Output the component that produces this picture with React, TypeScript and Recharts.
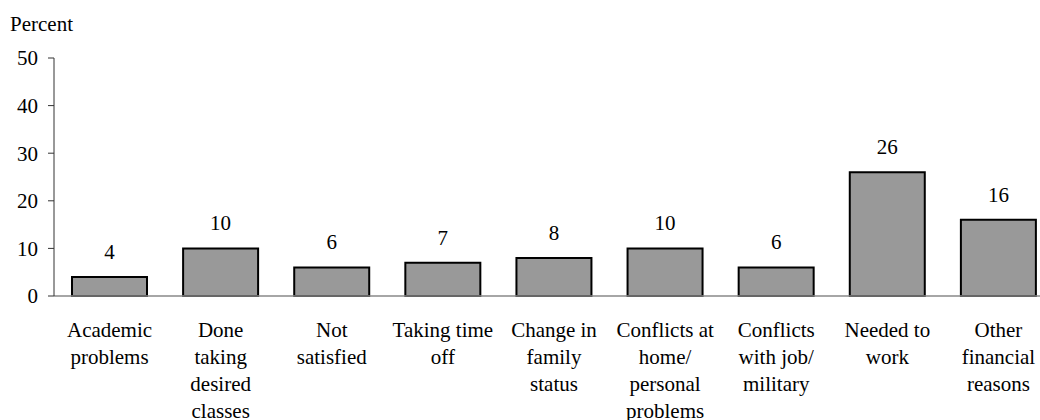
import React from 'react';
import { BarChart, Bar, XAxis, YAxis, LabelList } from 'recharts';

const categories = [
  ['Academic', 'problems'],
  ['Done', 'taking', 'desired', 'classes'],
  ['Not', 'satisfied'],
  ['Taking time', 'off'],
  ['Change in', 'family', 'status'],
  ['Conflicts at', 'home/', 'personal', 'problems'],
  ['Conflicts', 'with job/', 'military'],
  ['Needed to', 'work'],
  ['Other', 'financial', 'reasons'],
];
const percents = [4, 10, 6, 7, 8, 10, 6, 26, 16];
const yTicks = [0, 10, 20, 30, 40, 50];

const FONT = 'Liberation Serif';

const data = categories.map((lines, i) => ({ name: lines.join(' '), value: percents[i] }));

const CategoryTick = (props: any) => {
  const { x, y, index } = props;
  const lines = categories[index] || [];
  return (
    <text x={x} y={y} textAnchor="middle" fontFamily={FONT} fontSize={21} fill="#000">
      {lines.map((l, i) => (
        <tspan key={i} x={x} y={y + 33 + i * 27}>{l}</tspan>
      ))}
    </text>
  );
};

const ValueLabel = (props: any) => {
  const { x, y, width, value } = props;
  return (
    <text x={x + width / 2} y={y - 18} textAnchor="middle" fontFamily={FONT} fontSize={21} fill="#000">
      {value}
    </text>
  );
};

export default function App() {
  return (
    <div style={{ position: 'fixed', left: 0, top: 0, width: 1040, height: 420, overflow: 'hidden', background: '#fff', fontFamily: FONT }}>
      <BarChart
        width={1070}
        height={420}
        data={data}
        margin={{ top: 58, right: 16, left: 0, bottom: 0 }}
        barSize={75}
      >
        <text x={10} y={31} fontFamily={FONT} fontSize={21} fill="#000">Percent</text>
        <XAxis
          dataKey="name"
          tick={<CategoryTick />}
          tickLine={false}
          axisLine={{ stroke: '#888', strokeWidth: 1.5 }}
          interval={0}
          height={124}
        />
        <YAxis
          domain={[0, 50]}
          ticks={yTicks}
          width={54}
          tickSize={6}
          tickMargin={10}
          axisLine={{ stroke: '#333' }}
          tickLine={{ stroke: '#333' }}
          tick={{ fontSize: 21, fill: '#000', fontFamily: FONT }}
        />
        <Bar dataKey="value" fill="#999999" stroke="#000" strokeWidth={2} isAnimationActive={false}>
          <LabelList dataKey="value" content={<ValueLabel />} />
        </Bar>
      </BarChart>
    </div>
  );
}
